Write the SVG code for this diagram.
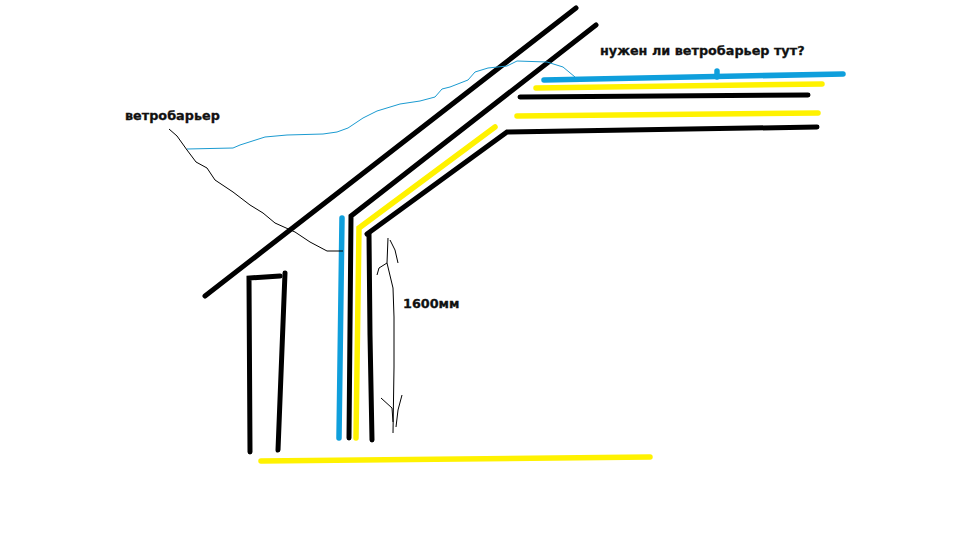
<svg xmlns="http://www.w3.org/2000/svg" width="960" height="540" viewBox="0 0 960 540">
<style>
.k{fill:none;stroke:#000;stroke-width:5;stroke-linecap:round;stroke-linejoin:miter}
.y{fill:none;stroke:#fff200;stroke-width:5.5;stroke-linecap:round;stroke-linejoin:miter}
.b{fill:none;stroke:#0f9fdc;stroke-width:5.5;stroke-linecap:round}
.t{fill:none;stroke:#000;stroke-width:1}
.c{fill:none;stroke:#1b9bd1;stroke-width:1}
text{font-family:"DejaVu Sans",sans-serif;font-weight:bold;font-size:12.8px;fill:#111;stroke:#111;stroke-width:.3}
</style>
<rect width="960" height="540" fill="#fff"/>
<polyline class="k" points="576,8 205,296"/>
<polyline class="k" points="596,25 351,216 349,438"/>
<polyline class="k" points="817,127 507,132 367,234"/>
<polyline class="k" points="369,234 370,335 372,440"/>
<polyline class="k" points="808,95 520,97"/>
<polyline class="k" points="250,452 249,278 280,276"/>
<polyline class="k" points="285,273 278,450"/>
<polyline class="y" points="495,127 359,228 356,438"/>
<polyline class="y" points="822,84 536,88"/>
<polyline class="y" points="818,113 517,116"/>
<polyline class="y" points="650,457 261,461"/>
<polyline class="b" points="342,218 339,438"/>
<polyline class="b" points="843,74 544,80"/>
<polyline class="b" points="717,71 717,77"/>
<polyline class="t" points="169,129 177,136 187,150 196,162 207,168 215,180 233,192 250,205 263,213 275,223 295,232 310,242 327,251 343,251"/>
<polyline class="c" points="187,149 233,148 240,145 265,137 287,135 323,134 337,132 348,128 363,118 377,111 400,104 420,101 435,97 442,89 450,87 468,80 475,72 488,68 507,66 517,61 547,62 563,67 575,77"/>
<polyline class="t" points="388,238 387,263 393,288 394,317 394,367 393,433"/>
<polyline class="t" points="390,240 395,250 398,263"/>
<polyline class="t" points="387,263 379,268 377,275"/>
<polyline class="t" points="381,398 392,408 393,422"/>
<polyline class="t" points="402,395 398,410 396,427"/>
<text x="125" y="120">ветробарьер</text>
<text x="600" y="55">нужен ли ветробарьер тут?</text>
<text x="403" y="308">1600мм</text>
</svg>
